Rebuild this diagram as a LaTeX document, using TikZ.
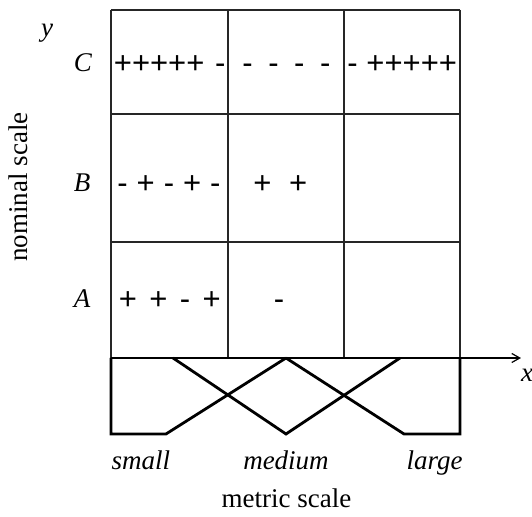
\documentclass[tikz,border=0pt]{standalone}
\usepackage{fontspec}
\setmainfont{Liberation Serif}
\newfontfamily\signfont{Liberation Sans}
\usetikzlibrary{arrows.meta}
\tikzset{
  cellline/.style={line width=0.6pt, color=black!85},
  mfun/.style={line width=1.4pt, line join=miter},
  xaxis/.style={line width=0.6pt, -{Straight Barb[length=4pt,width=4.5pt]}},
  axlbl/.style={font=\fontsize{13.5}{16}\selectfont\itshape, inner sep=0pt, anchor=base},
  scllbl/.style={font=\fontsize{13.5}{16}\selectfont, inner sep=0pt, anchor=base},
  signs/.style={font=\signfont\fontsize{15.5}{19}\selectfont,
                execute at begin node={\spaceskip=#1\relax},
                inner sep=0pt, anchor=base west},
  signs/.default=5pt,
}

\begin{document}
\begin{tikzpicture}[x=0.5pt, y=-0.5pt]
  \useasboundingbox (0,0) rectangle (532,517);

  % Grid
  \foreach \x in {111,228,344,460}
    \draw[cellline] (\x,10) -- (\x,358);
  \foreach \y in {10,114,242}
    \draw[cellline] (111,\y) -- (460,\y);

  % Axis
  \coordinate (o) at (111,358);
  \coordinate (xend) at (521,358);
  \draw[xaxis] (o) -- (xend);

  % Membership functions
  \draw[mfun] (111,358) -- (111,434) -- (166,434) -- (286,358);
  \draw[mfun] (173,358) -- (286,434) -- (400,358);
  \draw[mfun] (286,358) -- (404,434) -- (460,434) -- (460,358);

  % Signs
  \node[signs=5.4pt] (c1) at (113.5,74) {+++++ -};
  \node[signs=7.8pt] (c2) at (242,74)   {- - - -};
  \node[signs=4.4pt] (c3) at (347,74)   {- +++++};
  \node[signs=4.5pt] (b1) at (117,194)  {- + - + -};
  \node[signs=8.8pt] (b2) at (253,194)  {+ +};
  \node[signs=6.2pt] (a1) at (118.5,310) {+ + - +};
  \node[signs]       (a2) at (273.5,310) {-};

  % Labels
  \node[axlbl] (ylbl) at (47,37)   {y};
  \node[axlbl] (clbl) at (83,72)   {C};
  \node[axlbl] (blbl) at (82,192)  {B};
  \node[axlbl] (albl) at (82,308)  {A};
  \node[axlbl] (xlbl) at (527,382) {x};

  \node[axlbl] (small)  at (141,470)   {small};
  \node[axlbl] (medium) at (286,470)   {medium};
  \node[axlbl] (large)  at (434.5,470) {large};

  \node[scllbl] (metric) at (286.5,508) {metric scale};
  \node[scllbl, rotate=90] (nominal) at (27.5,187) {nominal scale};
\end{tikzpicture}
\end{document}
